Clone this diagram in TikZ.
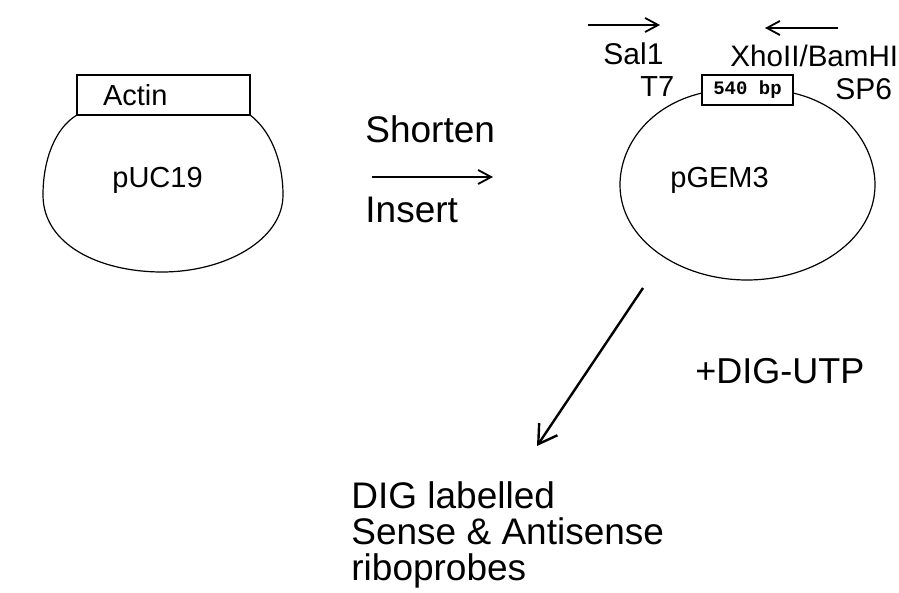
\documentclass[tikz,border=0pt]{standalone}
\usepackage{fontspec}
\setmainfont{Liberation Sans}
\newfontfamily\bpfont{Liberation Mono}
\usetikzlibrary{arrows.meta}
\tikzset{
  lb/.style={font=\fontsize{14.5}{17}\selectfont, inner sep=0pt, anchor=base west},
  lbig/.style={lb, font=\fontsize{18.5}{22}\selectfont},
  lprobe/.style={lb, font=\fontsize{18.5}{18}\selectfont, align=left},
  bx/.style={draw, line width=0.6pt, fill=white, inner ysep=0pt},
  pl/.style={draw, line width=0.6pt},
  a/.style={-{Straight Barb[length=6.5pt, width=7pt]}, line width=0.9pt},
  ab/.style={-{Straight Barb[length=9pt, width=11pt]}, line width=1.2pt},
}

\begin{document}
\begin{tikzpicture}[x=0.5pt, y=-0.5pt]
\useasboundingbox (0,0) rectangle (899,593);

% pUC19 with actin insert
\draw[pl] (77,115) .. controls (55,128) and (43,160) .. (43,195)
  .. controls (43,245) and (100,272) .. (162,272)
  .. controls (225,272) and (283,240) .. (283,195)
  .. controls (283,160) and (270,130) .. (250,115);
\node[bx, minimum width=86.5pt, minimum height=20pt, text width=60.5pt,
  inner xsep=13pt, align=left, font=\fontsize{14.5}{17}\selectfont] (act) at (163.5,95) {Actin};
\node[lb] (puc) at (112,188) {pUC19};

% step between the plasmids
\node[lbig] (sh) at (365,143) {Shorten};
\node[lbig] (ins) at (365,223) {Insert};
\coordinate (sh0) at (372,177);
\coordinate (sh1) at (493,177);
\draw[a] (sh0) -- (sh1);

% pGEM3 with 540 bp insert
\draw[pl] (702,93) .. controls (650,105) and (620,145) .. (620,185)
  .. controls (620,240) and (680,280) .. (747,280)
  .. controls (814,280) and (875,240) .. (875,185)
  .. controls (875,145) and (845,105) .. (793,93);
\node[bx, minimum width=45.5pt, minimum height=15pt, font=\bpfont\bfseries\fontsize{9.5}{11}\selectfont] (bp) at (747.5,90) {540 bp};
\node[lb] (gem) at (670,188) {pGEM3};
\node[lb] (t7) at (640,97) {T7};
\node[lb, font=\fontsize{15}{17}\selectfont] (sp6) at (835,100) {SP6};
\node[lb, font=\fontsize{15}{17}\selectfont] (sal) at (603,65) {Sal1};
\node[lb, font=\fontsize{14.8}{17}\selectfont] (xho) at (730,67) {XhoII/BamHI};
\coordinate (f0) at (588,25);
\coordinate (f1) at (660,25);
\coordinate (r0) at (838,28);
\coordinate (r1) at (765,28);
\draw[a] (f0) -- (f1);
\draw[a] (r0) -- (r1);

% transcription
\coordinate (d0) at (643,288);
\coordinate (d1) at (537,446);
\draw[ab] (d0) -- (d1);
\node[lbig, font=\fontsize{18}{22}\selectfont] (dig) at (695,383) {+DIG-UTP};
\node[lprobe] (probe) at (351,580) {DIG labelled\\Sense \& Antisense\\riboprobes};
\end{tikzpicture}
\end{document}
